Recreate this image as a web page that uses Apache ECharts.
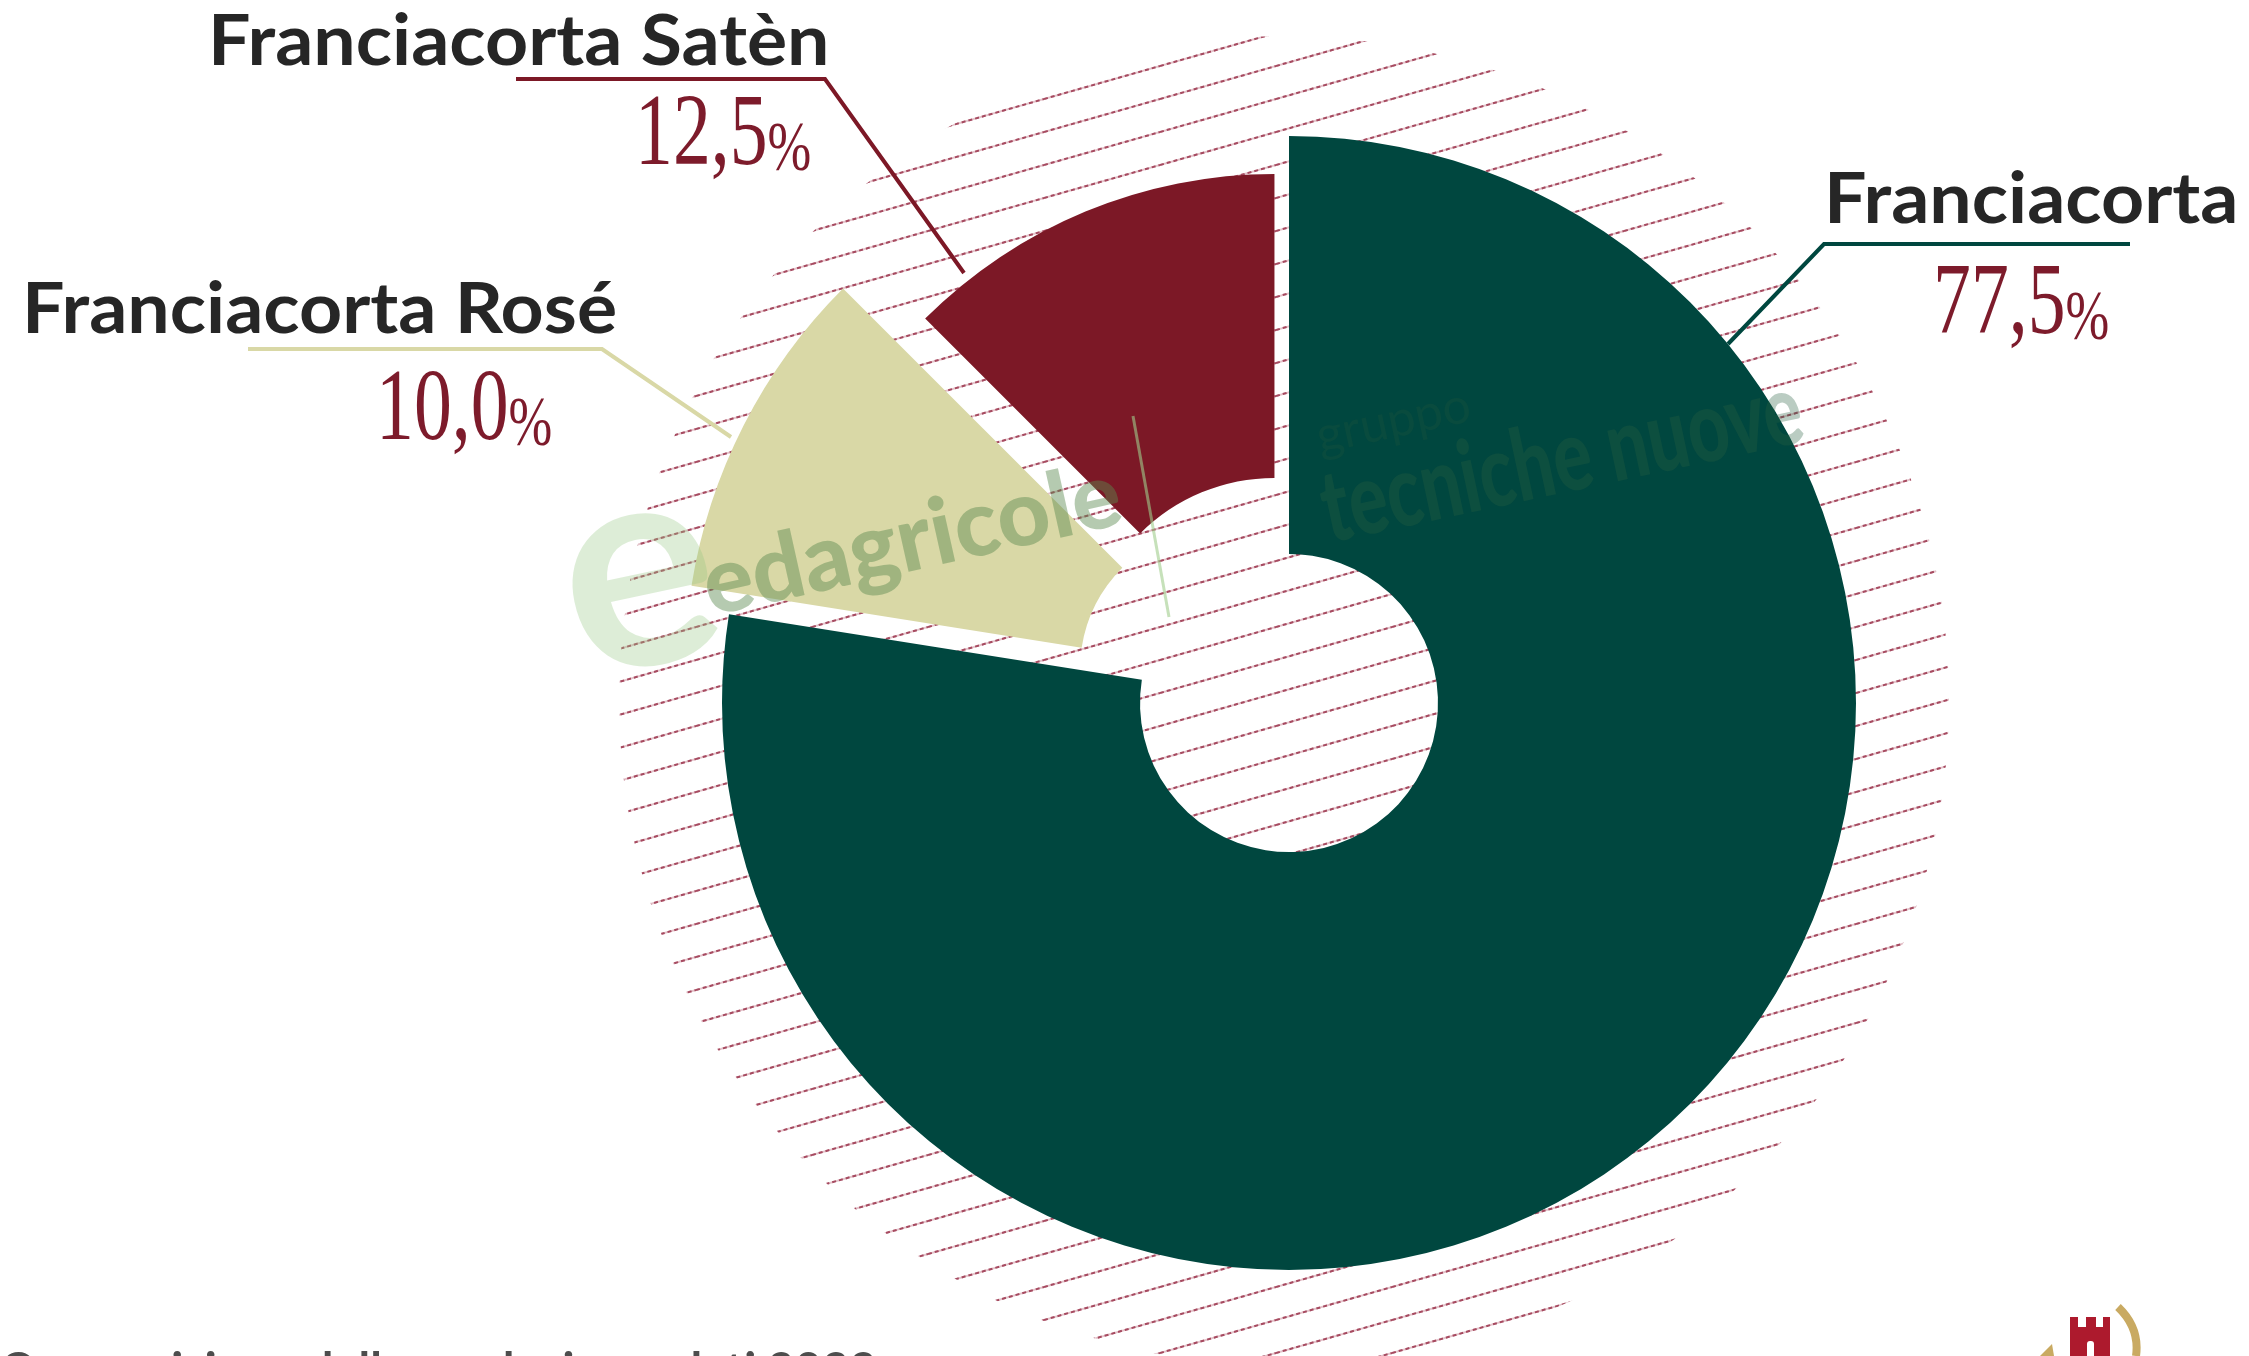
<!DOCTYPE html>
<html>
<head>
<meta charset="utf-8">
<script src="https://cdn.jsdelivr.net/npm/echarts@6/dist/echarts.min.js"></script>
<style>
  html, body { margin: 0; padding: 0; background: #fff; }
  #chart { width: 2249px; height: 1356px; }
</style>
</head>
<body>
<div id="chart"></div>
<script>
// data
const categories = ['Franciacorta', 'Franciacorta Rosé', 'Franciacorta Satèn'];
const shares = [77.5, 10.0, 12.5];
const footnote = 'Composizione della produzione, dati 2022';

// look
const sliceColors = ['#00473f', '#d9d8a6', '#7c1826'];
const leaderColors = ['#00473f', '#d9d8a6', '#7c1826'];
const sliceRadius = [[149, 567], [145, 540], [190, 494]];
const sliceExplode = [0, 72, 38];
const center = [1289, 703];

// callouts: leader line points, name position, percentage position
const callouts = [
  {line: [[1728, 344], [1824, 244], [2130, 244]], name: [1824, 200], pct: [1933, 306]},
  {line: [[731, 437], [602, 349], [248, 349]], name: [22, 310], pct: [376, 412]},
  {line: [[964, 273], [825, 79], [516, 79]], name: [208, 42], pct: [635, 137]}
];

const fmt = v => v.toFixed(1).replace('.', ',');

// hatch tile
const TW = 116, TH = 33;
const tile = document.createElement('canvas');
tile.width = TW;
tile.height = TH;
const ctx = tile.getContext('2d');
[-1, 0, 1].forEach(k => {
  ctx.setLineDash([]);
  ctx.strokeStyle = '#e4c3ca';
  ctx.lineWidth = 2;
  ctx.beginPath();
  ctx.moveTo(0, TH + k * TH);
  ctx.lineTo(TW, k * TH);
  ctx.stroke();
  ctx.setLineDash([4, 3]);
  ctx.strokeStyle = '#a64a60';
  ctx.beginPath();
  ctx.moveTo(0, TH + k * TH);
  ctx.lineTo(TW, k * TH);
  ctx.stroke();
});

const series = categories.map((c, i) => ({
  type: 'pie',
  center: center,
  radius: sliceRadius[i],
  startAngle: 90,
  clockwise: true,
  selectedMode: 'multiple',
  selectedOffset: sliceExplode[i],
  silent: true,
  animation: false,
  avoidLabelOverlap: false,
  label: {show: false},
  labelLine: {show: false},
  emphasis: {disabled: true},
  z: 2,
  data: categories.map((name, j) => {
    const col = j === i ? sliceColors[i] : 'rgba(0,0,0,0)';
    return {
      name: name,
      value: shares[j],
      selected: j === i && sliceExplode[i] > 0,
      itemStyle: {color: col},
      select: {itemStyle: {color: col}}
    };
  })
}));

const elements = [
  {
    type: 'circle', z: 0, silent: true,
    shape: {cx: 1284, cy: 701, r: 665},
    style: {fill: {image: tile, repeat: 'repeat'}}
  }
];

// watermarks
elements.push(
  {type: 'text', z: 10, silent: true, x: 592, y: 730, rotation: 0.21,
    style: {text: 'e', fill: 'rgba(150,200,130,0.32)', fontSize: 290, fontWeight: 'bold',
      fontFamily: 'Lato', align: 'left', verticalAlign: 'bottom'}},
  {type: 'text', z: 10, silent: true, x: 714, y: 632, rotation: 0.22,
    style: {text: 'edagricole', fill: 'rgba(90,138,80,0.45)', fontSize: 92, fontWeight: 900,
      fontFamily: 'Lato', align: 'left', verticalAlign: 'bottom'}},
  {type: 'line', z: 10, silent: true,
    shape: {x1: 1133, y1: 416, x2: 1169, y2: 617},
    style: {stroke: 'rgba(160,205,140,0.6)', lineWidth: 3}},
  {type: 'text', z: 10, silent: true, x: 1322, y: 462, rotation: 0.21,
    style: {text: 'gruppo', fill: 'rgba(40,90,60,0.22)', fontSize: 50,
      fontFamily: 'Lato', align: 'left', verticalAlign: 'bottom'}},
  {type: 'text', z: 10, silent: true, x: 1333, y: 560, rotation: 0.21, scaleX: 0.72,
    style: {text: 'tecniche nuove', fill: 'rgba(40,95,65,0.32)', fontSize: 100, fontWeight: 900,
      fontFamily: 'Lato', align: 'left', verticalAlign: 'bottom'}}
);

// callouts
categories.forEach((name, i) => {
  const c = callouts[i];
  elements.push(
    {type: 'polyline', z: 20, silent: true,
      shape: {points: c.line},
      style: {stroke: leaderColors[i], lineWidth: 4, fill: null}},
    {type: 'text', z: 20, silent: true, x: c.name[0], y: c.name[1], scaleX: 1.06,
      style: {text: name, fill: '#262626', fontSize: 71, fontWeight: 'bold',
        fontFamily: 'Lato', align: 'left', verticalAlign: 'middle'}},
    {type: 'text', z: 20, silent: true, x: c.pct[0], y: c.pct[1], scaleX: 0.75,
      style: {text: '{n|' + fmt(shares[i]) + '}{p|%}', align: 'left', verticalAlign: 'middle',
        rich: {
          n: {fontSize: 101, lineHeight: 100, fontFamily: 'Liberation Serif', fill: '#7d1b2b'},
          p: {fontSize: 70, lineHeight: 78, fontFamily: 'Liberation Serif', fill: '#7d1b2b', verticalAlign: 'bottom'}
        }}}
  );
});

// footnote (cut off at the bottom edge)
elements.push({type: 'text', z: 20, silent: true, x: 0, y: 1348,
  style: {text: footnote, fill: '#4d4d4d', fontSize: 47, fontWeight: 'bold',
    fontFamily: 'Lato', align: 'left', verticalAlign: 'top'}});

// small logo at bottom right
elements.push(
  {type: 'polygon', z: 20, silent: true,
    shape: {points: [[2070, 1356], [2070, 1317], [2078, 1317], [2078, 1327], [2086, 1327], [2086, 1317],
      [2096, 1317], [2096, 1327], [2103, 1327], [2103, 1317], [2110, 1317], [2110, 1356]]},
    style: {fill: '#ad1a2d'}},
  {type: 'rect', z: 21, silent: true, shape: {x: 2087, y: 1341, width: 7, height: 15, r: [3, 3, 0, 0]},
    style: {fill: '#fff'}},
  {type: 'bezierCurve', z: 20, silent: true,
    shape: {x1: 2118, y1: 1307, cpx1: 2140, cpy1: 1328, x2: 2136, y2: 1356},
    style: {stroke: '#c9aa62', lineWidth: 8, fill: null}},
  {type: 'polygon', z: 20, silent: true,
    shape: {points: [[2040, 1356], [2052, 1344], [2054, 1356]]},
    style: {fill: '#c9aa62'}}
);

const chart = echarts.init(document.getElementById('chart'));
chart.setOption({
  backgroundColor: '#ffffff',
  animation: false,
  series: series,
  graphic: {elements: elements}
});
</script>
</body>
</html>
